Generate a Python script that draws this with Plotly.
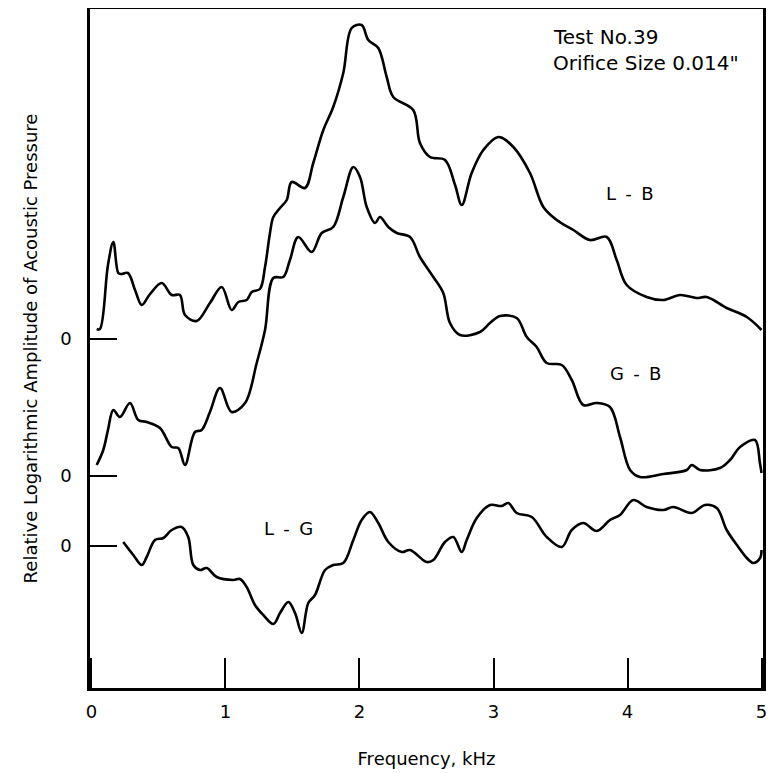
import plotly.graph_objects as go

# Frequency (kHz) and relative log amplitude (arbitrary units, relative to each curve's own zero)
lb_freq = [0.039, 0.063, 0.123, 0.163, 0.20, 0.22, 0.272, 0.325, 0.375, 0.437, 0.524, 0.599, 0.66, 0.698,
           0.785, 0.884, 0.972, 1.046, 1.096, 1.158, 1.196, 1.257, 1.295, 1.332, 1.357, 1.407, 1.457, 1.494,
           1.593, 1.655, 1.73, 1.804, 1.879, 1.942, 2.016, 2.066, 2.14, 2.203, 2.252, 2.401, 2.451, 2.526,
           2.638, 2.713, 2.763, 2.837, 2.924, 3.036, 3.148, 3.272, 3.372, 3.472, 3.596, 3.72, 3.845, 3.919,
           3.994, 4.143, 4.267, 4.392, 4.516, 4.591, 4.74, 4.89, 5.0]
lb_amp = [1.0, 1.0, 7.4, 9.7, 6.6, 6.5, 6.6, 4.9, 3.4, 4.5, 5.6, 4.4, 4.4, 2.4,
          1.8, 3.6, 5.2, 2.9, 3.7, 3.9, 4.7, 5.0, 7.2, 10.6, 12.2, 13.1, 13.9, 15.7,
          15.1, 17.6, 20.9, 23.2, 26.6, 31.1, 31.4, 29.9, 29.1, 26.2, 24.2, 22.9, 19.6, 18.2,
          17.9, 15.4, 13.4, 16.6, 18.9, 20.2, 19.2, 16.6, 13.2, 11.9, 10.9, 9.9, 10.2, 7.9,
          5.4, 4.2, 3.9, 4.4, 4.1, 4.2, 3.1, 2.2, 0.9]

gb_freq = [0.039, 0.088, 0.123, 0.163, 0.213, 0.287, 0.349, 0.412, 0.511, 0.599, 0.648, 0.698, 0.772,
           0.822, 0.884, 0.959, 1.046, 1.146, 1.233, 1.295, 1.357, 1.431, 1.481, 1.543, 1.643, 1.718,
           1.804, 1.879, 1.954, 2.004, 2.054, 2.116, 2.153, 2.215, 2.278, 2.377, 2.451, 2.551, 2.625,
           2.675, 2.75, 2.899, 2.974, 3.049, 3.173, 3.248, 3.322, 3.397, 3.509, 3.584, 3.67, 3.77,
           3.869, 3.944, 4.019, 4.093, 4.267, 4.442, 4.479, 4.541, 4.69, 4.765, 4.84, 4.951, 4.988, 5.0]
gb_amp = [1.1, 2.6, 4.6, 6.6, 5.9, 7.3, 5.6, 5.4, 4.8, 2.9, 2.8, 1.1, 4.4,
          4.6, 6.4, 8.8, 6.4, 7.3, 11.3, 14.6, 19.8, 19.9, 21.6, 23.9, 22.4, 24.3,
          24.9, 27.9, 30.9, 29.9, 26.9, 25.3, 25.9, 24.9, 24.3, 23.9, 21.9, 19.9, 18.3,
          15.3, 14.1, 14.4, 15.3, 16.0, 15.8, 13.9, 12.9, 11.3, 11.1, 9.6, 7.1, 7.3,
          6.9, 3.9, 0.6, -0.1, 0.2, 0.6, 1.1, 0.6, 0.8, 1.6, 2.9, 3.6, 1.3, 0.3]

lg_freq = [0.237, 0.312, 0.375, 0.412, 0.474, 0.536, 0.599, 0.673, 0.722, 0.76, 0.81, 0.86, 0.934,
           1.058, 1.108, 1.158, 1.22, 1.282, 1.357, 1.407, 1.469, 1.519, 1.569, 1.618, 1.668, 1.743,
           1.804, 1.879, 1.954, 2.016, 2.078, 2.14, 2.215, 2.315, 2.377, 2.501, 2.551, 2.638, 2.70,
           2.763, 2.80, 2.875, 2.974, 3.061, 3.11, 3.173, 3.285, 3.397, 3.509, 3.584, 3.67, 3.77,
           3.869, 3.944, 4.043, 4.143, 4.267, 4.342, 4.479, 4.578, 4.666, 4.74, 4.827, 4.89, 4.939,
           4.989, 5.0]
lg_amp = [0.4, -0.9, -1.9, -1.1, 0.6, 0.8, 1.6, 1.9, 0.9, -1.9, -2.4, -2.2, -3.1,
          -3.4, -3.3, -4.1, -5.9, -6.9, -7.8, -6.7, -5.6, -6.7, -8.7, -5.7, -4.9, -2.4,
          -1.9, -1.7, 0.6, 2.6, 3.4, 2.3, 0.4, -0.6, -0.4, -1.6, -1.4, 0.4, 0.9,
          -0.6, 0.6, 2.8, 4.1, 4.0, 4.3, 3.3, 2.9, 0.9, -0.1, 1.6, 2.3, 1.5,
          2.6, 3.1, 4.6, 3.9, 3.6, 3.9, 3.3, 4.1, 3.8, 1.6, -0.1, -1.2, -1.7,
          -1.2, -0.4]

# Vertical offsets (zero level of each curve on the shared plotting scale)
zero_levels = {"L - B": 34.9, "G - B": 21.2, "L - G": 14.2}
x_ticks = [0, 1, 2, 3, 4, 5]

FONT = "DejaVu Sans"

fig = go.Figure()
series = [("L - B", lb_freq, lb_amp), ("G - B", gb_freq, gb_amp), ("L - G", lg_freq, lg_amp)]
for name, fx, amp in series:
    off = zero_levels[name]
    fig.add_trace(go.Scatter(
        x=fx, y=[a + off for a in amp], mode="lines", name=name,
        line=dict(color="black", width=2.6, shape="spline", smoothing=1.0),
        showlegend=False, hoverinfo="skip"))

# curve labels
label_pos = {"L - B": (4.02, 49.5), "G - B": (4.06, 31.5), "L - G": (1.47, 16.0)}
for name, (lx, ly) in label_pos.items():
    fig.add_annotation(x=lx, y=ly, text=name.replace(" ", "\u2009 "), showarrow=False,
                       font=dict(family=FONT, size=18, color="black"))

fig.add_annotation(x=3.43, y=65.1, xanchor="left", yanchor="middle", text="Test No.39",
                   showarrow=False, font=dict(family=FONT, size=20, color="black"))
fig.add_annotation(x=3.43, y=62.5, xanchor="left", yanchor="middle", text="Orifice Size 0.014\"",
                   showarrow=False, font=dict(family=FONT, size=20, color="black"))

fig.update_layout(
    width=775, height=773,
    margin=dict(l=82, r=20, t=1, b=93),
    paper_bgcolor="white", plot_bgcolor="white",
    font=dict(family=FONT, size=18, color="black"),
)
fig.update_xaxes(
    range=[-0.011, 5.011], tickvals=x_ticks, ticktext=[str(t) for t in x_ticks],
    ticks="inside", ticklen=30, tickwidth=2, tickcolor="black",
    showline=True, linewidth=2.5, linecolor="black", mirror=True,
    showgrid=False, zeroline=False, ticklabelstandoff=6, automargin=False,
    tickfont=dict(family=FONT, size=18),
    title=dict(text="Frequency, kHz", standoff=32, font=dict(family=FONT, size=18)),
)
fig.update_yaxes(
    range=[0, 67.9], tickvals=list(zero_levels.values()), ticktext=["0", "0", "0"],
    ticks="inside", ticklen=27, tickwidth=2, tickcolor="black",
    showline=True, linewidth=2.5, linecolor="black", mirror=True,
    showgrid=False, zeroline=False, ticklabelstandoff=12, automargin=False,
    tickfont=dict(family=FONT, size=18),
    title=dict(text="Relative Logarithmic Amplitude of Acoustic Pressure", standoff=18,
               font=dict(family=FONT, size=18)),
)

fig.write_html("out.html")
